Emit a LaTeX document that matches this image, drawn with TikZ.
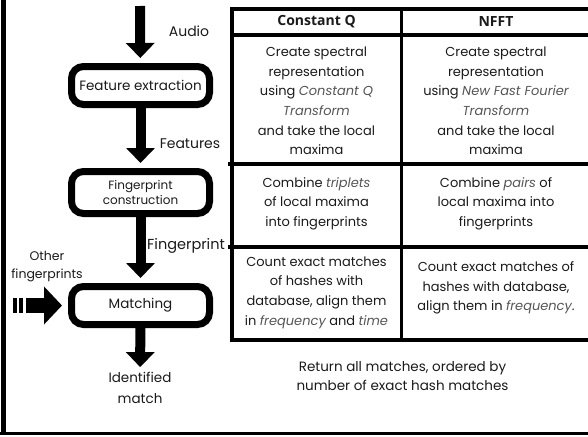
\documentclass[tikz,border=0pt]{standalone}
\usepackage{fontspec}
\setmainfont{Poppins}
\newfontfamily\headfont{Open Sans}
\usetikzlibrary{arrows.meta}
\definecolor{ink}{HTML}{1A1A1A}
\definecolor{itgray}{HTML}{555555}
\newcommand{\itx}[1]{{\itshape\color{itgray}#1}}
\begin{document}
\begin{tikzpicture}[x=1pt,y=-1pt,
  bodytext/.style={text=ink, align=center, inner sep=0pt, font=\fontsize{13}{19.6}\selectfont},
  headtext/.style={text=ink, inner sep=0pt, font=\headfont\bfseries\fontsize{14}{16}\selectfont},
  flowbox/.style={draw=black, line width=7pt, rounded corners=12pt, minimum width=138pt, inner sep=2pt, align=center, text=ink},
  fatarrow/.style={line width=10pt, -{Triangle[width=28pt,length=15pt]}, shorten >=5pt},
  tabline/.style={line width=3.5pt, black},
  lbl/.style={text=ink, align=center, inner sep=0pt, font=\fontsize{14}{18}\selectfont}
]
\useasboundingbox (0,0) rectangle (588,436);
% frame (left and bottom)
\draw[line width=5pt] (3.5,-2) -- (3.5,433.5);
\draw[line width=3pt] (0,433.5) -- (590,433.5);

% flowchart
\coordinate (in) at (140,6);
\node[flowbox, minimum height=38pt, font=\fontsize{13.5}{15}\selectfont] (fe) at (140.5,85.5) {Feature extraction};
\node[flowbox, minimum height=42pt, font=\fontsize{12}{15.5}\selectfont] (fc) at (140.5,192.5) {Fingerprint\\construction};
\node[flowbox, minimum height=38pt, font=\fontsize{13.5}{15}\selectfont] (mt) at (140.5,305.5) {Matching};
\node[lbl, font=\fontsize{13.5}{21}\selectfont] (id) at (140,388) {Identified\\match};

\draw[fatarrow] (in) -- (fe);
\draw[fatarrow] (fe) -- (fc);
\draw[fatarrow] (fc) -- (mt);
\draw[fatarrow] (mt) -- (id);

\node[lbl] (audio) at (189,31) {Audio};
\node[lbl] (feat) at (190,144) {Features};
\node[lbl, font=\fontsize{14.5}{18}\selectfont] (fp) at (186,246) {Fingerprint};
\node[lbl, font=\fontsize{12.5}{18}\selectfont] (other) at (47,267) {Other\\fingerprints};

% other fingerprints input arrow
\fill (13,298) rectangle (16.5,313);
\fill (19,298) rectangle (23,313);
\coordinate (os) at (26,305.5);
\draw[line width=15pt, -{Triangle[width=37pt,length=18pt]}, shorten >=6pt] (os) -- (mt);

% table
\draw[tabline, line width=4pt] (231,9) -- (590,9);
\draw[tabline] (231,35) -- (590,35);
\draw[tabline] (228,164) -- (590,164);
\draw[tabline] (228,247) -- (590,247);
\draw[tabline, line width=4pt] (231,340) -- (590,340);
\draw[tabline] (232,7.5) -- (232,341.5);
\draw[tabline] (401.5,7.5) -- (401.5,341.5);

\node[headtext] (h1) at (316.5,22) {Constant Q};
\node[headtext] (h2) at (496,22) {NFFT};

\node[bodytext] (c11) at (316.5,101) {Create spectral\\representation\\using \itx{Constant Q}\\\itx{Transform}\\and take the local\\maxima};
\node[bodytext] (c12) at (496,101) {Create spectral\\representation\\using \itx{New Fast Fourier}\\\itx{Transform}\\and take the local\\maxima};
\node[bodytext] (c21) at (316.5,203.5) {Combine \itx{triplets}\\of local maxima\\into fingerprints};
\node[bodytext] (c22) at (496,203.5) {Combine \itx{pairs} of\\local maxima into\\fingerprints};
\node[bodytext] (c31) at (316.5,292.5) {Count exact matches\\of hashes with\\database, align them\\in \itx{frequency} and \itx{time}};
\node[bodytext] (c32) at (496,288) {Count exact matches of\\hashes with database,\\align them in \itx{frequency}.};

\node[bodytext, font=\fontsize{13.5}{19}\selectfont] (ret) at (402.5,376.5) {Return all matches, ordered by\\number of exact hash matches};
\end{tikzpicture}
\end{document}
